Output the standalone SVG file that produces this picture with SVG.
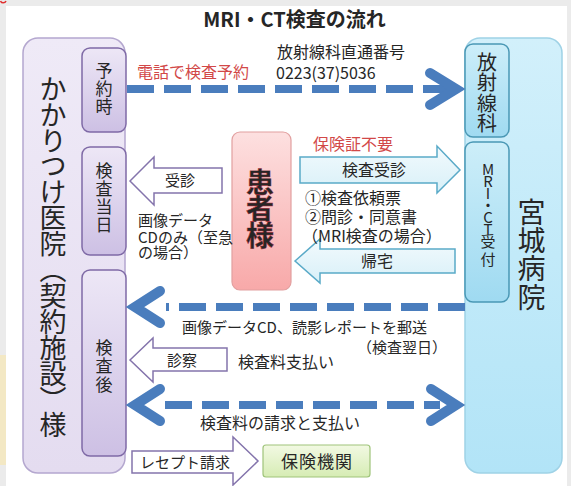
<svg xmlns="http://www.w3.org/2000/svg" width="571" height="486" viewBox="0 0 571 486">
<defs>
<linearGradient id="gLeft" x1="0" y1="0" x2="0" y2="1"><stop offset="0" stop-color="#efeaf7"/><stop offset="1" stop-color="#e4dcf0"/></linearGradient>
<linearGradient id="gLeftSub" x1="0" y1="0" x2="0" y2="1"><stop offset="0" stop-color="#ede7f6"/><stop offset="1" stop-color="#cdc0e4"/></linearGradient>
<linearGradient id="gRight" x1="0" y1="0" x2="0" y2="1"><stop offset="0" stop-color="#d2f0fb"/><stop offset="1" stop-color="#b2e4f7"/></linearGradient>
<linearGradient id="gRightSub" x1="0" y1="0" x2="0" y2="1"><stop offset="0" stop-color="#cdeef9"/><stop offset="1" stop-color="#9fdaf1"/></linearGradient>
<linearGradient id="gPat" x1="0" y1="0" x2="0" y2="1"><stop offset="0" stop-color="#fde0e0"/><stop offset="1" stop-color="#f8a9a9"/></linearGradient>
<linearGradient id="gCyanArrow" x1="0" y1="0" x2="0" y2="1"><stop offset="0" stop-color="#f2fafd"/><stop offset="1" stop-color="#d8f0f8"/></linearGradient>
<linearGradient id="gGreen" x1="0" y1="0" x2="0" y2="1"><stop offset="0" stop-color="#f2f9e3"/><stop offset="1" stop-color="#d6ecb4"/></linearGradient>
</defs>
<style>
.t{font-family:"Noto Sans CJK JP","Noto Sans",sans-serif;fill:#262626;}
.red{fill:#d24848;}
.vt{writing-mode:vertical-rl;}
.up{text-orientation:upright;}
.dash{fill:none;stroke:#4a7dbd;stroke-width:8;stroke-dasharray:27 10;}
.chev{fill:none;stroke:#4a7dbd;stroke-width:10;stroke-linejoin:miter;stroke-linecap:round;}
.hp{fill:#ffffff;stroke:#8474ac;stroke-width:1.5;}
.hc{fill:url(#gCyanArrow);stroke:#5aaac8;stroke-width:1.5;}
</style>
<rect x="0" y="0" width="571" height="486" fill="#ebebeb"/>
<rect x="0" y="355" width="6" height="110" fill="#f3e8c4"/>
<path d="M0.5 1 A3 3 0 0 0 6 1" fill="none" stroke="#e03030" stroke-width="1.5"/>
<rect x="6" y="6" width="561" height="480" fill="#ffffff"/>

<text class="t" x="294.5" y="27" font-size="20" font-weight="bold" text-anchor="middle">MRI・CT検査の流れ</text>

<g id="clinic">
<rect x="23" y="38" width="102" height="435" rx="15" fill="url(#gLeft)" stroke="#b4a7cf" stroke-width="1.5"/>
<text class="t vt" x="53" y="75" font-size="27" letter-spacing="-1.1">かかりつけ医院（契約施設）様</text>
</g>
<g id="yoyakuji">
<rect x="82" y="48" width="44" height="84" rx="8" fill="url(#gLeftSub)" stroke="#7f6aa6" stroke-width="1.5"/>
<text class="t vt" x="104" y="62" font-size="17" letter-spacing="1">予約時</text>
</g>
<g id="kensa-toujitsu">
<rect x="82" y="147" width="44" height="108" rx="8" fill="url(#gLeftSub)" stroke="#7f6aa6" stroke-width="1.5"/>
<text class="t vt" x="104" y="162" font-size="17" letter-spacing="1">検査当日</text>
</g>
<g id="kensa-go">
<rect x="82" y="270" width="44" height="186" rx="8" fill="url(#gLeftSub)" stroke="#7f6aa6" stroke-width="1.5"/>
<text class="t vt" x="104" y="339" font-size="17" letter-spacing="1.5">検査後</text>
</g>

<g id="hospital">
<rect x="465" y="38" width="97" height="435" rx="15" fill="url(#gRight)" stroke="#9fd2e6" stroke-width="1.5"/>
<text class="t vt" x="531.5" y="198" font-size="28" letter-spacing="0.3">宮城病院</text>
</g>
<g id="radiology">
<rect x="465" y="44" width="44" height="93" rx="8" fill="url(#gRightSub)" stroke="#4a98b5" stroke-width="1.5"/>
<text class="t vt" x="487" y="52" font-size="20" letter-spacing="0.5">放射線科</text>
</g>
<g id="mrict">
<rect x="465" y="142" width="44" height="160" rx="8" fill="url(#gRightSub)" stroke="#4a98b5" stroke-width="1.5"/>
<text class="t vt up" x="488" y="161.5" font-size="15"><tspan letter-spacing="-3">MRI・CT</tspan><tspan letter-spacing="3">受付</tspan></text>
</g>

<g id="patient">
<rect x="232" y="132" width="59" height="158" rx="8" fill="url(#gPat)" stroke="#e2a0a0" stroke-width="1.2"/>
<text class="t vt" x="260" y="168" font-size="28" font-weight="bold" letter-spacing="-1.5" fill="#d43c4c" stroke="#b02a3a" stroke-width="0.4">患者様</text>
</g>

<g id="insurer">
<rect x="263" y="445" width="107" height="32" rx="3" fill="url(#gGreen)" stroke="#9fc47a" stroke-width="1.2"/>
<text class="t" x="317" y="468" font-size="17" letter-spacing="1" text-anchor="middle">保険機関</text>
</g>

<g id="connectors">
<path class="dash" d="M127 89 H452"/>
<polyline class="chev" points="430,73 456,89 430,105"/>
<path class="dash" d="M465 307 H166"/>
<polyline class="chev" points="160,291 135,307 160,323"/>
<path class="dash" d="M165 405 H440"/>
<polyline class="chev" points="160,389 135,405 160,421"/>
<polyline class="chev" points="431,389 456,405 431,421"/>
<polygon class="hc" points="300,157 437,157 437,146 460,170 437,193 437,183 300,183"/>
<polygon class="hc" points="295,261 320,239 320,249 455,249 455,273 320,273 320,283"/>
<polygon class="hp" points="130,181 154,157 154,168 222,168 222,193 154,193 154,205"/>
<polygon class="hp" points="130,360 153,338 153,348 227,348 227,371 153,371 153,382"/>
<polygon class="hp" points="132,451 233,451 233,437 258,461 233,485 233,473 132,473"/>
</g>

<g id="labels">
<text class="t red" x="137" y="78" font-size="16">電話で検査予約</text>
<text class="t" x="277" y="57.5" font-size="16">放射線科直通番号</text>
<text class="t" x="276" y="79" font-size="16">0223(37)5036</text>
<text class="t red" x="313" y="150" font-size="16">保険証不要</text>
<text class="t" x="374" y="176" font-size="16" text-anchor="middle">検査受診</text>
<text class="t" x="305" y="204" font-size="16">①検査依頼票</text>
<text class="t" x="305" y="223" font-size="16">②問診・同意書</text>
<text class="t" x="302" y="242" font-size="16">（MRI検査の場合）</text>
<text class="t" x="377" y="267" font-size="16" text-anchor="middle">帰宅</text>
<text class="t" x="180" y="186" font-size="15" text-anchor="middle">受診</text>
<text class="t" x="138" y="226" font-size="15">画像データ</text>
<text class="t" x="138" y="242.5" font-size="15">CDのみ（至急</text>
<text class="t" x="138" y="258" font-size="15">の場合）</text>
<text class="t" x="182" y="333" font-size="15">画像データCD、読影レポートを郵送</text>
<text class="t" x="447" y="353" font-size="15" text-anchor="end">（検査翌日）</text>
<text class="t" x="182" y="366" font-size="15" text-anchor="middle">診察</text>
<text class="t" x="238" y="368" font-size="16">検査料支払い</text>
<text class="t" x="200" y="429" font-size="16">検査料の請求と支払い</text>
<text class="t" x="140" y="467.5" font-size="15">レセプト請求</text>
</g>
</svg>
